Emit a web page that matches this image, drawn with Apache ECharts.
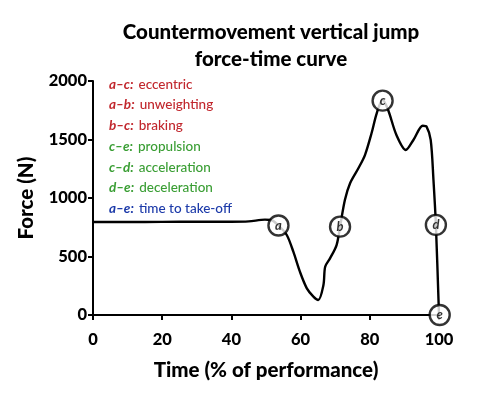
<!DOCTYPE html>
<html><head><meta charset="utf-8">
<script src="https://cdn.jsdelivr.net/npm/echarts@6/dist/echarts.min.js"></script>
<style>html,body{margin:0;padding:0;background:#fff}#c{width:495px;height:398px}</style>
</head><body><div id="c"></div>
<script>
var timePct = [0,10,20,30,40,45,49.7,51.5,53.6,56,57.9,59.8,61.8,63.7,65.1,66.6,67.1,68.5,70.4,71.4,72.8,74.3,76.7,78.6,80.5,82,83.7,85.3,87.7,90.4,92.6,95.3,96.4,97.6,98.4,99.1,100];
var forceN  = [795,795,796,797,797,800,815,812,765,684,541,370,228,157,128,256,413,484,598,755,983,1126,1254,1367,1553,1724,1840,1752,1538,1410,1496,1618,1610,1496,1154,770,0];
var pointLabels = ['a','b','c','d','e'];
var pointTime   = [53.6,71.4,83.7,99.1,100.2];
var pointForce  = [765,755,1832,770,0];
var phaseKeys   = ['a\u2013c:','a\u2013b:','b\u2013c:','c\u2013e:','c\u2013d:','d\u2013e:','a\u2013e:'];
var phaseNames  = ['eccentric','unweighting','braking','propulsion','acceleration','deceleration','time to take-off'];
var phaseGroup  = ['r','r','r','g','g','g','b'];
var xTicks = [0,20,40,60,80,100];
var yTicks = [0,500,1000,1500,2000];

var colors = {r:'#c1272d', g:'#3a9e34', b:'#1c3aa9'};
var FONT = 'Lato';
var rich = {};
['r','g','b'].forEach(function(k){
  rich[k+'k'] = {color:colors[k], fontStyle:'italic', fontWeight:'bold', fontSize:13.5, fontFamily:FONT, lineHeight:20.7};
  rich[k+'n'] = {color:colors[k], fontSize:13.5, fontWeight:500, fontFamily:FONT, lineHeight:20.7};
});
var legendText = phaseKeys.map(function(k,i){
  var g = phaseGroup[i];
  return '{'+g+'k|'+k+'} {'+g+'n|'+phaseNames[i]+'}';
}).join('\n');

var chart = echarts.init(document.getElementById('c'), null, {renderer:'canvas'});
chart.setOption({
  animation:false,
  backgroundColor:'#fff',
  title:[{
    text:'Countermovement vertical jump\nforce-time curve',
    left:266, top:14, textAlign:'center',
    textStyle:{fontFamily:FONT, fontWeight:900, fontSize:20.5, color:'#000', lineHeight:27}
  },{
    text:legendText,
    left:104, top:69,
    textStyle:{rich:rich, lineHeight:20.7}
  }],
  grid:{left:93, right:56, top:81, bottom:83},
  xAxis:{
    type:'value', min:0, max:100, interval:20,
    name:'Time (% of performance)', nameLocation:'middle', nameGap:45,
    nameTextStyle:{fontFamily:FONT, fontWeight:900, fontSize:20.5, color:'#000'},
    axisLine:{lineStyle:{color:'#000', width:2}},
    axisTick:{show:true, length:5, lineStyle:{color:'#000', width:2}},
    axisLabel:{fontFamily:FONT, fontWeight:900, fontSize:16.5, color:'#000', margin:16,
      formatter:function(v){return xTicks.indexOf(v)>=0? String(v):'';}},
    splitLine:{show:false}
  },
  yAxis:{
    type:'value', min:0, max:2000, interval:500,
    name:'Force (N)', nameLocation:'middle', nameGap:56, nameRotate:90,
    nameTextStyle:{fontFamily:FONT, fontWeight:900, fontSize:20.5, color:'#000'},
    axisLine:{show:true, lineStyle:{color:'#000', width:2}},
    axisTick:{show:true, length:5, lineStyle:{color:'#000', width:2}},
    axisLabel:{fontFamily:FONT, fontWeight:900, fontSize:16.5, color:'#000', margin:6,
      formatter:function(v){return yTicks.indexOf(v)>=0? String(v):'';}},
    splitLine:{show:false}
  },
  series:[{
    type:'line', smooth:0.3, symbol:'none',
    lineStyle:{color:'#000', width:2.4},
    data: timePct.map(function(t,i){return [t, forceN[i]];}),
    z:2
  },{
    type:'scatter', symbol:'circle', symbolSize:20,
    itemStyle:{color:'#fff', borderColor:'#000', borderWidth:2.4},
    label:{show:true, position:'inside', fontFamily:FONT, fontStyle:'italic', fontWeight:'bold', fontSize:13, color:'#000',
      formatter:function(p){return pointLabels[p.dataIndex];}},
    data: pointTime.map(function(t,i){return [t, pointForce[i]];}),
    z:5, clip:false
  }]
});
</script></body></html>
